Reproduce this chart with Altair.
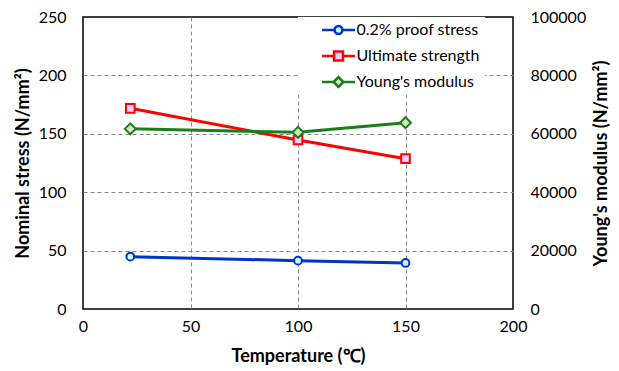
import altair as alt
import pandas as pd

# ---- data ----
temps = [22, 100, 150]
proof_stress = [44.8, 41.4, 39.4]
ultimate_strength = [171.8, 144.7, 128.7]
youngs_modulus = [61700, 60500, 63800]

series_names = ["0.2% proof stress", "Ultimate strength", "Young's modulus"]
line_colors = ["#0033CC", "#FF0000", "#1A7F1A"]
fill_colors = ["#CCFFFF", "#FFCCFF", "#D7E4BD"]

x_ticks = [0, 50, 100, 150, 200]
left_ticks = [0, 50, 100, 150, 200, 250]
right_ticks = [0, 20000, 40000, 60000, 80000, 100000]

# legend symbols: line + marker as custom paths (unit box -1..1)
legend_paths = [
    "M-1,0H-0.24 M0.24,0 A0.24,0.24 0 1,1 -0.24,0 A0.24,0.24 0 1,1 0.24,0Z M0.24,0H1",
    "M-1,0H-0.27 M-0.27,-0.27H0.27V0.27H-0.27Z M0.27,0H1",
    "M-1,0H-0.3 M-0.3,0L0,-0.3L0.3,0L0,0.3Z M0.3,0H1",
]

df_proof = pd.DataFrame({"T": temps, "v": proof_stress})
df_ult = pd.DataFrame({"T": temps, "v": ultimate_strength})
df_young = pd.DataFrame({"T": temps, "E": youngs_modulus})
df_legend = pd.DataFrame({"series": series_names})

no_edge = {"condition": {"test": "datum.value === 0 || datum.value === 200", "value": 0}, "value": 1}
no_edge_y = {"condition": {"test": "datum.value === 0 || datum.value === 250", "value": 0}, "value": 1}

X = alt.X("T:Q", scale=alt.Scale(domain=[0, 200], nice=False),
          axis=alt.Axis(values=x_ticks, title="Temperature (℃)", grid=True, labelFlush=False,
                        gridOpacity=no_edge, labelPadding=9, titlePadding=13, format="d"))
YL = alt.Y("v:Q", scale=alt.Scale(domain=[0, 250], nice=False),
           axis=alt.Axis(values=left_ticks, title="Nominal stress (N/mm²)", grid=True, labelFlush=False,
                         gridOpacity=no_edge_y, labelPadding=17, titlePadding=6, format="d"))
YR = alt.Y("E:Q", scale=alt.Scale(domain=[0, 100000], nice=False),
           axis=alt.Axis(orient="right", values=right_ticks, title="Young's modulus (N/mm²)",
                         grid=False, labelFlush=False, labelPadding=17, titlePadding=7,
                         titleAngle=270, titleBaseline="top", format="d"))

def line_and_points(df, y, color, fill, shape, size):
    base = alt.Chart(df).encode(x=X, y=y)
    ln = base.mark_line(color=color, strokeWidth=3)
    pt = base.mark_point(shape=shape, size=size, filled=True, fill=fill, stroke=color,
                         strokeWidth=2, opacity=1)
    return [ln, pt]

leg = alt.Legend(orient="none", legendX=215, legendY=0, fillColor="white", padding=5,
                 rowPadding=10, clipHeight=16, labelFont="Lato", labelFontSize=16, labelColor="black",
                 symbolOffset=17.5, labelOffset=0, symbolSize=1089, symbolStrokeWidth=2.5,
                 symbolOpacity=1, title=None, labelLimit=300)

legend_layer = alt.Chart(df_legend).mark_point(filled=False, opacity=0, size=1089).encode(
    x=alt.value(0), y=alt.value(0),
    color=alt.Color("series:N", scale=alt.Scale(domain=series_names, range=line_colors), legend=leg),
    fill=alt.Fill("series:N", scale=alt.Scale(domain=series_names, range=fill_colors), legend=leg),
    shape=alt.Shape("series:N", scale=alt.Scale(domain=series_names, range=legend_paths), legend=leg),
)

left = alt.layer(
    *line_and_points(df_proof, YL, line_colors[0], fill_colors[0], "circle", 60),
    *line_and_points(df_ult, YL, line_colors[1], fill_colors[1], "square", 75),
    legend_layer,
)
right = alt.layer(
    *line_and_points(df_young, YR, line_colors[2], fill_colors[2], "diamond", 120),
)

chart = alt.layer(left, right).resolve_scale(y="independent").properties(
    width=430, height=292,
    padding={"left": 83, "top": 17, "right": 106, "bottom": 62},
    autosize=alt.AutoSizeParams(type="none"),
    background="white",
).configure_axis(
    labelFont="Lato", labelFontSize=16, labelColor="black",
    titleFont="Lato", titleFontSize=18, titleFontWeight="bold", titleColor="black",
    domain=False, ticks=False, gridColor="#888888", gridDash=[4, 3], gridWidth=1,
).configure_view(stroke="black", strokeWidth=1.5)

chart.save("out.html", embed_options={"renderer": "svg", "actions": False})
